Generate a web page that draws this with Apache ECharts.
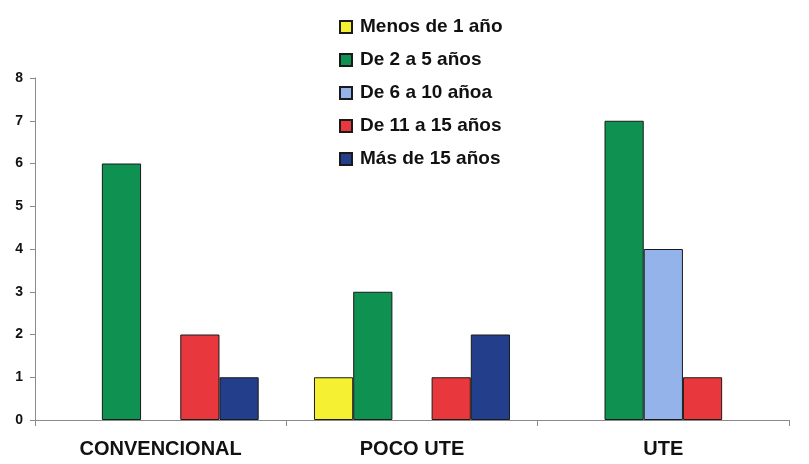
<!DOCTYPE html>
<html>
<head>
<meta charset="utf-8">
<script src="https://cdn.jsdelivr.net/npm/echarts@6/dist/echarts.min.js"></script>
<style>
html,body{margin:0;padding:0;background:#fff;}
#c{width:809px;height:464px;}
</style>
</head>
<body>
<div id="c"></div>
<script>
const categories = ['CONVENCIONAL', 'POCO UTE', 'UTE'];
const seriesNames = ['Menos de 1 año', 'De 2 a 5 años', 'De 6 a 10 añoa', 'De 11 a 15 años', 'Más de 15 años'];
const menos1 = [0, 1, 0];
const de2a5 = [6, 3, 7];
const de6a10 = [0, 0, 4];
const de11a15 = [2, 1, 1];
const mas15 = [1, 2, 0];
const yTicks = [0, 1, 2, 3, 4, 5, 6, 7, 8];
const colors = ['#f6f032', '#0f9152', '#94b3ea', '#e8383d', '#233f8c'];

const values = [menos1, de2a5, de6a10, de11a15, mas15];
const sans = "'Liberation Sans', Arial, sans-serif";

const chart = echarts.init(document.getElementById('c'), null, {renderer: 'canvas'});
chart.setOption({
  animation: false,
  backgroundColor: '#ffffff',
  color: colors,
  legend: {
    orient: 'vertical',
    left: 334,
    top: 12,
    itemWidth: 12,
    itemHeight: 12,
    itemGap: 13,
    icon: 'rect',
    textStyle: {fontFamily: sans, fontWeight: 'bold', fontSize: 19, color: '#111', lineHeight: 20, padding: [0,0,0,3]},
    data: seriesNames
  },
  grid: {left: 35, right: 20, top: 78, bottom: 44, containLabel: false},
  xAxis: {
    type: 'category',
    data: categories,
    axisLine: {lineStyle: {color: '#8a8a8a', width: 1}},
    axisTick: {show: true, alignWithLabel: false, length: 6, lineStyle: {color: '#8a8a8a'}},
    axisLabel: {fontFamily: sans, fontWeight: 'bold', fontSize: 20, color: '#111', margin: 19, interval: 0}
  },
  yAxis: {
    type: 'value',
    min: yTicks[0],
    max: yTicks[yTicks.length - 1],
    interval: 1,
    splitLine: {show: false},
    axisLine: {show: true, lineStyle: {color: '#8a8a8a', width: 1}},
    axisTick: {show: true, length: 5, lineStyle: {color: '#8a8a8a'}},
    axisLabel: {fontFamily: sans, fontWeight: 'bold', fontSize: 14, color: '#111', margin: 12}
  },
  series: seriesNames.map((name, i) => ({
    name: name,
    type: 'bar',
    barGap: '0%',
    barCategoryGap: '22%',
    itemStyle: {color: colors[i], borderColor: '#1a1a1a', borderWidth: 1},
    data: values[i].map(v => v === 0 ? '-' : v)
  }))
});
</script>
</body>
</html>
